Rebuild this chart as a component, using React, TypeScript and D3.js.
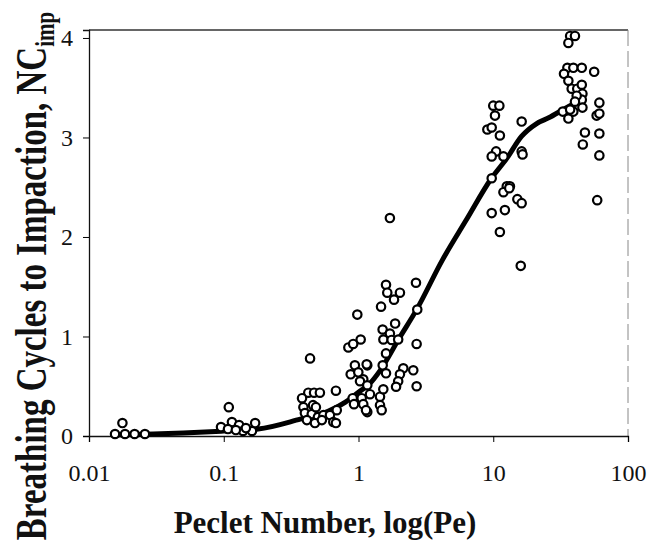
import React, { useEffect, useRef } from 'react'
import * as d3 from 'd3'

// measured points, grouped by the clusters seen in the plot
const lowPe = [0.0156, 0.0177, 0.0185, 0.0218, 0.026]
const lowNc = [0.02, 0.13, 0.02, 0.02, 0.02]

const tenthPe = [0.0954, 0.109, 0.115, 0.13, 0.1075, 0.139, 0.162, 0.171, 0.146, 0.123]
const tenthNc = [0.09, 0.29, 0.14, 0.11, 0.07, 0.05, 0.05, 0.13, 0.08, 0.06]

const halfPe = [0.437, 0.424, 0.468, 0.517, 0.381, 0.39, 0.46, 0.4, 0.45, 0.483, 0.5, 0.549, 0.614, 0.69, 0.414, 0.475, 0.535, 0.65, 0.68, 0.68]
const halfNc = [0.78, 0.435, 0.435, 0.435, 0.38, 0.29, 0.31, 0.23, 0.22, 0.29, 0.19, 0.21, 0.21, 0.26, 0.16, 0.13, 0.16, 0.14, 0.13, 0.455]

const onePe = [
	0.841, 0.913, 1.038, 0.98, 0.94, 1.162, 0.875, 0.997, 1.085, 1.026, 0.905, 0.926, 1.056, 1.085, 1.162, 1.444,
	1.486, 1.162, 1.217, 1.444, 1.528, 1.6, 1.512, 1.6, 2.15, 2.55, 2.03, 1.97, 2.7, 1.9, 1.15, 1.137, 1.87, 1.51,
	1.71, 1.53, 1.76, 1.97, 2.7, 1.47, 2.73, 1.6, 1.635, 1.835, 2.03, 2.67, 1.71,
]
const oneNc = [
	0.89, 0.925, 0.97, 1.22, 0.71, 0.71, 0.62, 0.64, 0.57, 0.55, 0.38, 0.32, 0.38, 0.32, 0.24, 0.31, 0.26, 0.51, 0.42,
	0.395, 0.47, 0.83, 0.71, 0.63, 0.68, 0.66, 0.62, 0.55, 0.5, 0.495, 0.72, 0.26, 1.13, 1.07, 1.03, 0.97, 0.965,
	0.97, 0.925, 1.3, 1.27, 1.52, 1.44, 1.37, 1.44, 1.54, 2.19,
]

const tenPe = [9.04, 9.74, 10.0, 11.1, 10.3, 11.2, 16.25, 10.5, 9.74, 11.9, 16.25, 16.5, 9.74, 12.6, 13.3, 11.9, 13.15, 15.1, 16.25, 9.74, 12.2, 11.2, 16.0]
const tenNc = [3.08, 3.1, 3.32, 3.32, 3.22, 3.02, 3.16, 2.86, 2.81, 2.81, 2.86, 2.83, 2.59, 2.51, 2.51, 2.45, 2.49, 2.38, 2.34, 2.24, 2.27, 2.05, 1.71]

const highPe = [37.2, 40.4, 36.1, 35.5, 39.3, 45.4, 33.5, 36.1, 38.2, 42.0, 45.4, 45.9, 45.4, 41.6, 40.4, 45.9, 56.1, 32.8, 36.1, 39.3, 37.2, 61.3, 58.5, 61.3, 47.9, 46.2, 61.3, 61.3, 59.1]
const highNc = [4.02, 4.02, 3.95, 3.7, 3.7, 3.7, 3.64, 3.57, 3.49, 3.49, 3.53, 3.44, 3.38, 3.42, 3.36, 3.3, 3.66, 3.26, 3.19, 3.26, 3.28, 3.35, 3.22, 3.24, 3.05, 2.93, 3.04, 2.82, 2.37]

// fitted curve
const fitPe = [0.015, 0.03, 0.05, 0.1, 0.18, 0.37, 0.6, 0.8, 1.0, 1.2, 1.45, 2.0, 2.7, 4.2, 6.3, 9.7, 12.6, 16.2, 21, 26, 33, 45]
const fitNc = [0.01, 0.02, 0.03, 0.05, 0.07, 0.17, 0.25, 0.34, 0.44, 0.52, 0.66, 0.98, 1.27, 1.77, 2.17, 2.59, 2.79, 3.01, 3.14, 3.2, 3.28, 3.38]

const xTicks = [0.01, 0.1, 1, 10, 100]
const xTickLabels = ['0.01', '0.1', '1', '10', '100']
const yTicks = [0, 1, 2, 3, 4]

const serif = '"Liberation Serif", "Times New Roman", serif'

function App() {
	const ref = useRef<SVGSVGElement>(null)

	useEffect(() => {
		const svg = d3.select(ref.current)
		svg.selectAll('*').remove()

		const x = d3.scaleLog().domain([0.01, 100]).range([89, 628])
		const y = d3.scaleLinear().domain([0, 4.08]).range([436, 30])

		// kader: boven en rechts
		svg.append('line')
			.attr('x1', x(0.01)).attr('x2', x(100))
			.attr('y1', y(4.08)).attr('y2', y(4.08))
			.attr('stroke', '#333').attr('stroke-width', 1.3)
		svg.append('line')
			.attr('x1', x(100)).attr('x2', x(100))
			.attr('y1', y(4.08)).attr('y2', y(0))
			.attr('stroke', '#888').attr('stroke-width', 1)
			.attr('stroke-dasharray', '16,5')

		// assen
		const xaxis = d3.axisBottom(x).tickValues(xTicks).tickSize(6).tickFormat((d, i) => xTickLabels[i])
		const yaxis = d3.axisLeft(y).tickValues(yTicks).tickSize(6).tickFormat(d3.format('d'))

		const gx = svg.append('g').attr('transform', `translate(0,${y(0)})`).call(xaxis)
		gx.select('.domain').attr('stroke', '#111').attr('stroke-width', 1.3)
		gx.selectAll('text').attr('font-family', serif).attr('font-size', 24).attr('fill', '#111').attr('dy', '1.5em')

		const gy = svg.append('g').attr('transform', `translate(${x(0.01)},0)`).call(yaxis)
		gy.select('.domain').attr('stroke', '#111').attr('stroke-width', 1.3)
		gy.selectAll('text').attr('font-family', serif).attr('font-size', 24).attr('fill', '#111').attr('x', -16)

		// fitlijn
		const line = d3.line<number>()
			.x((d, i) => x(fitPe[i]))
			.y(d => y(d))
			.curve(d3.curveMonotoneX)
		svg.append('path')
			.attr('d', line(fitNc))
			.attr('fill', 'none')
			.attr('stroke', '#000')
			.attr('stroke-width', 5)
			.attr('stroke-linejoin', 'round')
			.attr('stroke-linecap', 'round')

		// meetpunten
		const groups = [
			[lowPe, lowNc],
			[tenthPe, tenthNc],
			[halfPe, halfNc],
			[onePe, oneNc],
			[tenPe, tenNc],
			[highPe, highNc],
		]
		const points = groups.flatMap(([pe, nc]) => pe.map((p, i) => ({ pe: p, nc: nc[i] })))
		svg.append('g')
			.selectAll('circle')
			.data(points)
			.join('circle')
			.attr('cx', d => x(d.pe))
			.attr('cy', d => y(d.nc))
			.attr('r', 4.2)
			.attr('fill', '#fff')
			.attr('stroke', '#000')
			.attr('stroke-width', 2.2)

		// as-titels
		svg.append('text')
			.attr('x', 325).attr('y', 533)
			.attr('text-anchor', 'middle')
			.attr('font-family', serif).attr('font-weight', 'bold').attr('font-size', 31)
			.attr('fill', '#111')
			.text('Peclet Number, log(Pe)')

		const ytitle = svg.append('text')
			.attr('transform', 'translate(46,276) rotate(-90) scale(1,1.35)')
			.attr('text-anchor', 'middle')
			.attr('font-family', serif).attr('font-weight', 'bold').attr('font-size', 33)
			.attr('fill', '#111')
		ytitle.append('tspan').text('Breathing Cycles to Impaction, NC')
		ytitle.append('tspan').attr('font-size', 21).attr('dy', 6).text('imp')
	}, [])

	return (
		<svg
			ref={ref}
			width={648}
			height={544}
			style={{ position: 'absolute', left: 0, top: 0, background: '#fff' }}
		/>
	)
}

export default App
